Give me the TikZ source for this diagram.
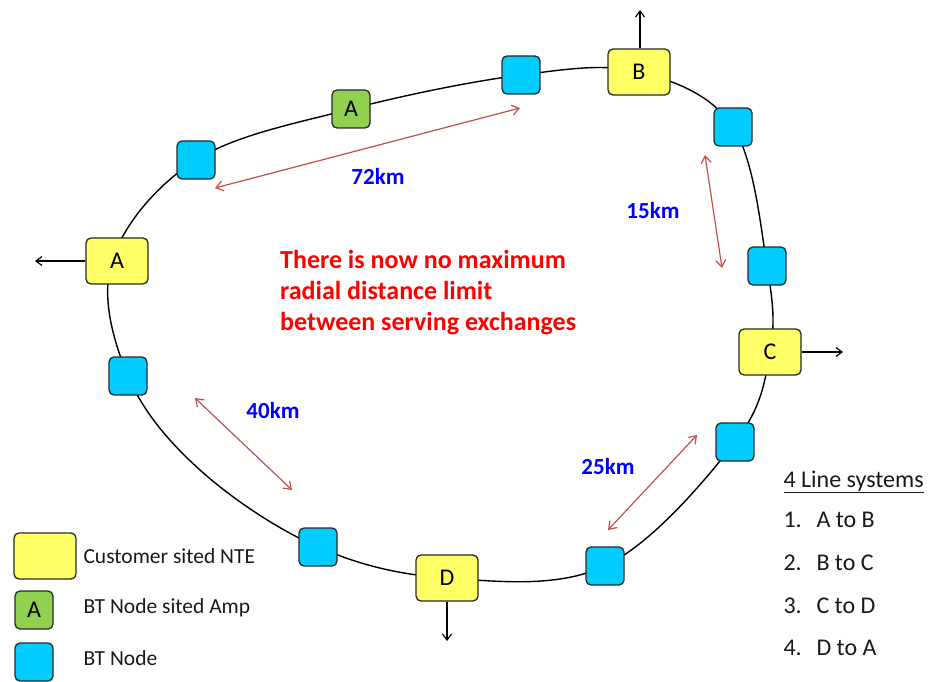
\documentclass[tikz,border=0pt]{standalone}
\usepackage{fontspec}
\setmainfont{Carlito}
\usetikzlibrary{arrows.meta}
\definecolor{nteyellow}{RGB}{255,255,102}
\definecolor{ampgreen}{RGB}{146,208,80}
\definecolor{nodeblue}{RGB}{0,204,255}
\definecolor{distred}{RGB}{192,80,77}
\definecolor{boxline}{RGB}{40,40,40}
\tikzset{
  box/.style={draw=boxline, line width=1.3pt, rounded corners=5pt, inner sep=0pt, font=\fontsize{24}{24}\selectfont},
  nte/.style={box, fill=nteyellow, minimum width=62pt, minimum height=46pt},
  amp/.style={box, fill=ampgreen, minimum width=38pt, minimum height=38pt},
  btn/.style={box, fill=nodeblue, minimum width=38pt, minimum height=38pt},
  ring/.style={line width=1.4pt, black},
  exit/.style={line width=1.2pt, -{Straight Barb[length=6pt,width=9pt]}},
  dist/.style={draw=distred, line width=1.2pt, {Straight Barb[length=7pt,width=10pt]}-{Straight Barb[length=7pt,width=10pt]}},
  km/.style={text=blue, font=\fontsize{23}{23}\selectfont\bfseries},
  legtext/.style={anchor=west, text=black!90, font=\fontsize{21.5}{21.5}\selectfont},
  listtext/.style={anchor=west, text=black!90, font=\fontsize{24}{24}\selectfont}
}
\newcommand{\numlab}[1]{\makebox[33pt][l]{#1}}
\begin{document}
\begin{tikzpicture}[x=1pt,y=-1pt]
\useasboundingbox (0,0) rectangle (934,682);
% ring
\draw[ring] plot[smooth cycle, tension=0.6] coordinates {
 (112,261) (196,160) (351,109) (521,75) (639,72) (733,127) (767,266) (770,352)
 (735,442) (605,566) (447,578) (318,547) (200,470) (128,376)};
% nodes
\node[nte] (A) at (117,261) {A};
\node[nte] (B) at (639,72) {B};
\node[nte] (C) at (770,352) {C};
\node[nte] (D) at (447,578) {D};
\node[amp] (amp) at (351,109) {A};
\node[btn] (n1) at (196,160) {};
\node[btn] (n2) at (521,75) {};
\node[btn] (n3) at (733,127) {};
\node[btn] (n4) at (767,266) {};
\node[btn] (n5) at (735,442) {};
\node[btn] (n6) at (605,566) {};
\node[btn] (n7) at (318,547) {};
\node[btn] (n8) at (128,376) {};
% exits
\coordinate (Aout) at (35,261);
\coordinate (Bout) at (640,10);
\coordinate (Cout) at (843,352);
\coordinate (Dout) at (447,641);
\draw[exit] (A.west) -- (Aout);
\draw[exit] (B.north -| Bout) -- (Bout);
\draw[exit] (C.east) -- (Cout);
\draw[exit] (D.south) -- (Dout);
% distances
\coordinate (d1a) at (215,188); \coordinate (d1b) at (520,108);
\coordinate (d2a) at (705,155); \coordinate (d2b) at (722,268);
\coordinate (d3a) at (195,398); \coordinate (d3b) at (292,490);
\coordinate (d4a) at (608,530); \coordinate (d4b) at (697,435);
\draw[dist] (d1a) -- (d1b);
\draw[dist] (d2a) -- (d2b);
\draw[dist] (d3a) -- (d3b);
\draw[dist] (d4a) -- (d4b);
\node[km] (k72) at (378,176) {72km};
\node[km] (k15) at (653,211) {15km};
\node[km] (k40) at (273,411) {40km};
\node[km] (k25) at (608,467) {25km};
% red note
\node[anchor=north west, align=left, text=red, font=\fontsize{26}{31}\selectfont\bfseries, inner sep=0pt] (note) at (280,250)
 {There is now no maximum\\radial distance limit\\between serving exchanges};
% legend
\node[nte] (L1) at (45,556) {};
\node[amp] (L2) at (34,610) {A};
\node[btn] (L3) at (34,662) {};
\node[legtext] (t1) at (80,556) {Customer sited NTE};
\node[legtext] (t2) at (80,608) {BT Node sited Amp};
\node[legtext] (t3) at (80,658) {BT Node};
% line systems
\node[listtext] (h) at (780,482) {\underline{4 Line systems}};
\node[listtext] (i1) at (780,520) {\numlab{1.}A to B};
\node[listtext] (i2) at (780,563) {\numlab{2.}B to C};
\node[listtext] (i3) at (780,606) {\numlab{3.}C to D};
\node[listtext] (i4) at (780,648) {\numlab{4.}D to A};
\end{tikzpicture}
\end{document}
